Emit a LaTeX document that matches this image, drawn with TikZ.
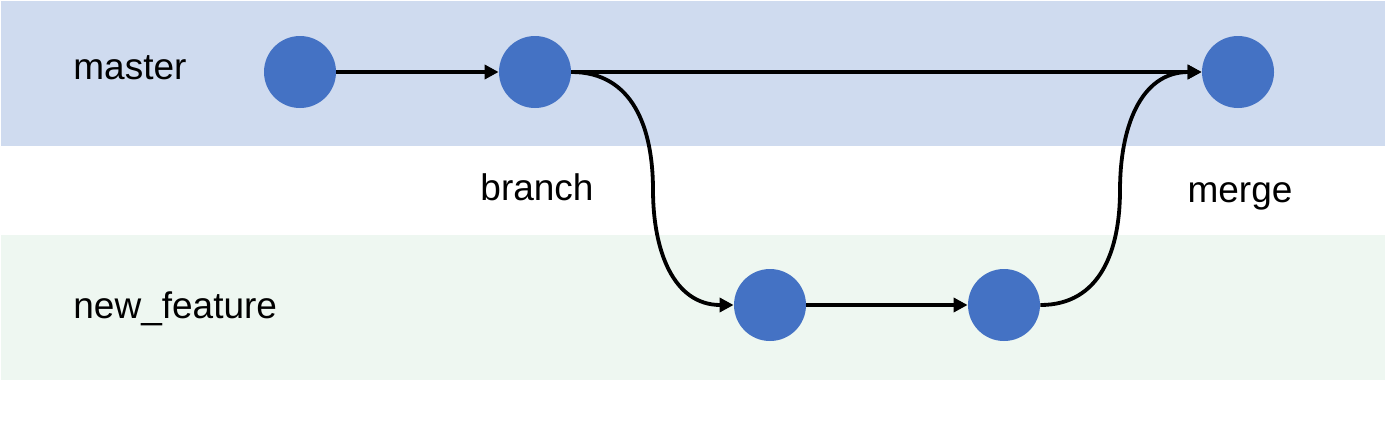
\documentclass[tikz,border=0pt]{standalone}
\usepackage{fontspec}
\setmainfont{Liberation Sans}
\usetikzlibrary{arrows.meta}
\definecolor{masterband}{HTML}{CFDBEF}
\definecolor{featureband}{HTML}{EEF7F1}
\definecolor{commitblue}{HTML}{4472C4}
\tikzset{
  commit/.style={circle, fill=commitblue, minimum size=36pt, inner sep=0pt},
  lbl/.style={font=\fontsize{18.5}{22}\selectfont, inner sep=0pt},
  link/.style={line width=1.9pt, -{Triangle[length=7pt,width=7pt]}}
}
\begin{document}
\begin{tikzpicture}[x=0.5pt, y=-0.5pt]
  \useasboundingbox (0,0) rectangle (1400,429);
  % lanes
  \fill[masterband] (1,1) rectangle (1385,146);
  \fill[featureband] (1,235) rectangle (1385,380);
  \node[lbl, anchor=base west] (lmaster) at (73,79) {master};
  \node[lbl, anchor=base west] (lfeature) at (73,318) {new\_feature};
  % commits
  \node[commit] (c1) at (300,72) {};
  \node[commit] (c2) at (535,72) {};
  \node[commit] (c3) at (770,305) {};
  \node[commit] (c4) at (1004,305) {};
  \node[commit] (c5) at (1238,72) {};
  \node[lbl, anchor=base] (lbranch) at (537,200) {branch};
  \node[lbl, anchor=base] (lmerge) at (1240,202) {merge};
  \coordinate (bmid) at (653,190);
  \coordinate (mmid) at (1120,190);
  \draw[link] (c1) -- (c2);
  \draw[link] (c2) -- (c5);
  \draw[link] (c3) -- (c4);
  \draw[link] (c2.east) to[out=0,in=90,looseness=1.1] (bmid) to[out=-90,in=180,looseness=1.1] (c3.west);
  \draw[link] (c4.east) to[out=0,in=-90,looseness=1.1] (mmid) to[out=90,in=180,looseness=1.1] (c5.west);
\end{tikzpicture}
\end{document}
